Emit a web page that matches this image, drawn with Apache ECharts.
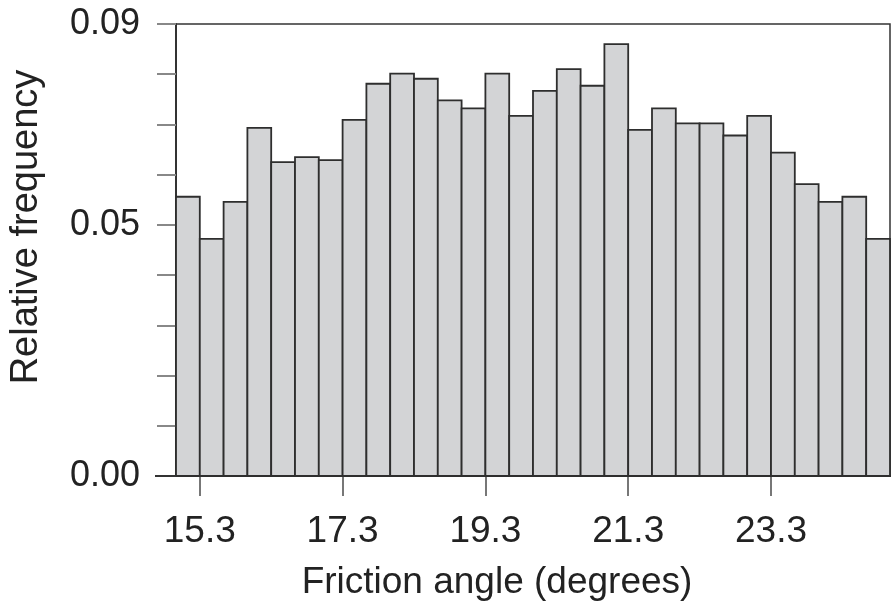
<!DOCTYPE html>
<html>
<head>
<meta charset="utf-8">
<script src="https://cdn.jsdelivr.net/npm/echarts@6/dist/echarts.min.js"></script>
<style>
html,body{margin:0;padding:0;background:#fff;}
#chart{width:895px;height:613px;}
</style>
</head>
<body>
<div id="chart"></div>
<script>
// Histogram data: bins of width 1/3 degree starting at 15.3 - 1/3
var binStart = 15.3 - 1/3;
var binWidth = 1/3;
var frequencies = [0.0556, 0.0472, 0.0546, 0.0693, 0.0625, 0.0635, 0.0629, 0.0709, 0.0781, 0.0801,
                   0.0791, 0.0748, 0.0732, 0.0801, 0.0717, 0.0767, 0.0810, 0.0777, 0.0860, 0.0689,
                   0.0732, 0.0702, 0.0702, 0.0678, 0.0717, 0.0644, 0.0581, 0.0546, 0.0556, 0.0472];
var xTickValues = [15.3, 17.3, 19.3, 21.3, 23.3];
var yLabelValues = [0, 0.05, 0.09];
var xTitle = 'Friction angle (degrees)';
var yTitle = 'Relative frequency';

var barData = frequencies.map(function (f, i) {
  var a = binStart + i * binWidth;
  return [a, a + binWidth, f];
});
var xMin = binStart;
var xMax = binStart + frequencies.length * binWidth;

var chart = echarts.init(document.getElementById('chart'));
var font = 'Liberation Sans, Arial, Helvetica, sans-serif';
chart.setOption({
  animation: false,
  grid: {left: 176, right: 5, top: 24, bottom: 137, containLabel: false, outerBoundsMode: 'none',
         show: true, borderColor: '#333', borderWidth: 1.5, backgroundColor: 'transparent'},
  xAxis: {
    type: 'value', min: xMin, max: xMax,
    name: xTitle, nameLocation: 'middle', nameGap: 88,
    nameTextStyle: {fontFamily: font, fontSize: 37, color: '#222', padding: [0, 72, 0, 0]},
    axisLine: {show: true, lineStyle: {color: '#333', width: 2}},
    axisTick: {show: true, customValues: xTickValues, length: 20, lineStyle: {color: '#777', width: 2}},
    axisLabel: {customValues: xTickValues, margin: 37, fontFamily: font, fontSize: 37, color: '#222',
      formatter: function (v) { return v.toFixed(1); }},
    splitLine: {show: false}
  },
  yAxis: {
    type: 'value', min: 0, max: 0.09, interval: 0.01,
    name: yTitle, nameLocation: 'middle', nameGap: 130,
    nameTextStyle: {fontFamily: font, fontSize: 38, color: '#222', padding: [0, 0, 0, 46]},
    axisLine: {show: true, lineStyle: {color: '#333', width: 2}},
    axisTick: {show: true, length: 19, lineStyle: {color: '#888', width: 2}},
    axisLabel: {customValues: yLabelValues, margin: 36, fontFamily: font, fontSize: 36, color: '#222',
      formatter: function (v) { return v.toFixed(2); }},
    splitLine: {show: false}
  },
  graphic: [{
    type: 'line', shape: {x1: 155, y1: 476, x2: 176, y2: 476}, style: {stroke: '#333', lineWidth: 2}, z: 10
  }],
  series: [{
    type: 'custom',
    encode: {x: [0, 1], y: 2},
    data: barData,
    renderItem: function (params, api) {
      var p0 = api.coord([api.value(0), api.value(2)]);
      var p1 = api.coord([api.value(1), 0]);
      return {
        type: 'rect',
        shape: {x: p0[0], y: p0[1], width: p1[0] - p0[0], height: p1[1] - p0[1]},
        style: {fill: '#d3d4d6', stroke: '#2e2e2e', lineWidth: 1.8}
      };
    }
  }]
});
</script>
</body>
</html>
